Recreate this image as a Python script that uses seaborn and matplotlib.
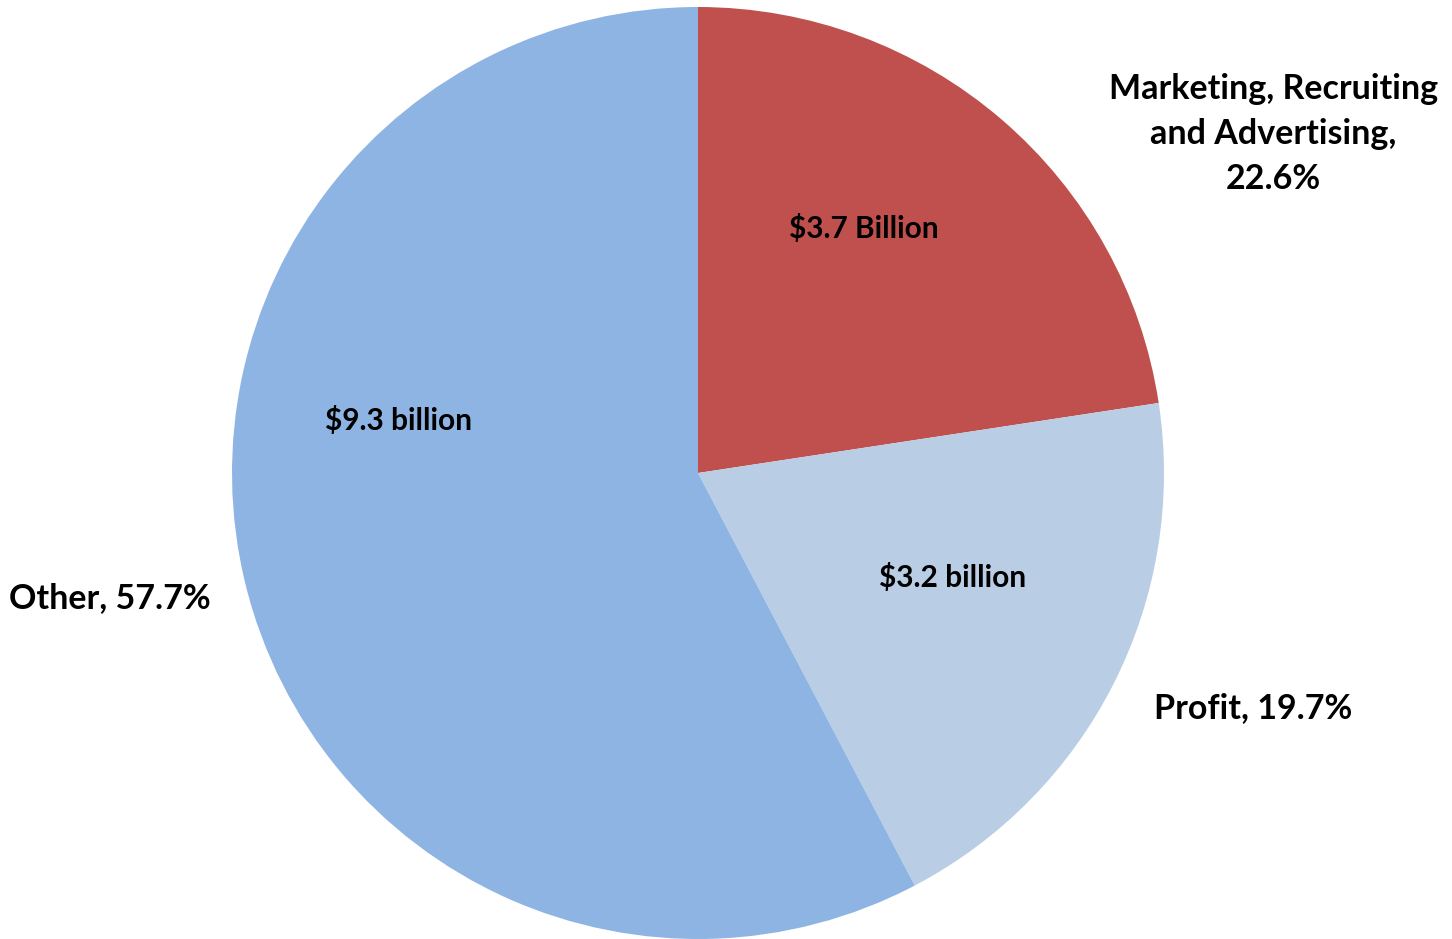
import matplotlib
matplotlib.use('Agg')
import matplotlib.pyplot as plt
import seaborn as sns

categories = ['Marketing, Recruiting\nand Advertising', 'Profit', 'Other']
shares = [22.6, 19.7, 57.7]
amounts = ['$3.7 Billion', '$3.2 billion', '$9.3 billion']
colors = ['#C0504D', '#B9CDE5', '#8EB4E3']

sns.set_theme(style='white')
plt.rcParams['font.family'] = ['Lato', 'DejaVu Sans']

fig = plt.figure(figsize=(14.52, 9.39), dpi=100)
ax = fig.add_axes([0, 0, 1, 1])

ax.pie(shares, colors=colors, startangle=90, counterclock=False,
       wedgeprops=dict(linewidth=0))

# inner value labels
inner_pos = [(0.356, 0.524), (0.547, -0.225), (-0.642, 0.112)]
for (x, y), txt in zip(inner_pos, amounts):
    ax.text(x, y, txt, ha='center', va='center', fontsize=21.5, fontweight='bold', color='black')

# outer category labels
outer_pos = [(1.235, 0.727), (1.191, -0.504), (-1.262, -0.268)]
for (x, y), cat, s in zip(outer_pos, categories, shares):
    ax.text(x, y, f'{cat}, {s}%'.replace('Advertising, ', 'Advertising,\n'),
            ha='center', va='center', fontsize=24.5, fontweight='bold',
            color='black', linespacing=1.5)

ax.set_aspect('auto')
ax.set_xlim(-698 / 466, (1452 - 698) / 466)
ax.set_ylim(-(939 - 473) / 466, 473 / 466)
ax.axis('off')

fig.savefig('out.png', dpi=100, facecolor='white')
